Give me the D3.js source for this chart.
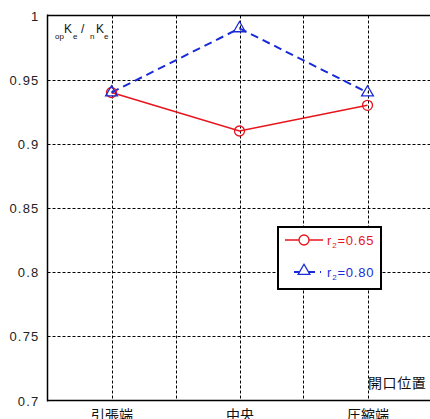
<!DOCTYPE html>
<html>
<head>
<meta charset="utf-8">
<script src="https://cdn.jsdelivr.net/npm/d3@7/dist/d3.min.js"></script>
<style>
  html, body { margin: 0; padding: 0; background: #fff; }
  svg { display: block; }
  .num { font-family: "Liberation Sans", Arial, sans-serif; }
  .cjk { font-family: "Noto Sans CJK JP", "Noto Sans CJK SC", sans-serif; }
</style>
</head>
<body>
<svg id="chart" width="430" height="419"></svg>
<script>
// Opening position categories and their slots on the x axis
const categories = ["引張端", "中央", "圧縮端"];
const categorySlots = [1, 3, 5];
const xGridSlots = [1, 2, 3, 4, 5];

// Stiffness ratio for each r2 case
const seriesR065 = [0.94, 0.91, 0.93];
const seriesR080 = [0.94, 0.99, 0.94];

const yTicks = [0.7, 0.75, 0.8, 0.85, 0.9, 0.95, 1];
const yTickLabels = ["0.7", "0.75", "0.8", "0.85", "0.9", "0.95", "1"];

const svg = d3.select("#chart");
const pLeft = 47.5, pRight = 431.5, pTop = 15.5, pBottom = 400.5;

const x = d3.scaleLinear().domain([0, 6]).range([pLeft, pRight]);
const y = d3.scaleLinear().domain([0.7, 1]).range([pBottom, pTop]);

// dashed grid
const grid = svg.append("g").attr("stroke", "#000").attr("stroke-width", 1)
  .attr("stroke-dasharray", "3,2").attr("fill", "none");
grid.selectAll("line.v").data(xGridSlots).enter().append("line")
  .attr("x1", d => Math.round(x(d)) + 0.5).attr("x2", d => Math.round(x(d)) + 0.5)
  .attr("y1", pTop).attr("y2", pBottom);
grid.selectAll("line.h").data(yTicks.slice(1, -1)).enter().append("line")
  .attr("x1", pLeft).attr("x2", pRight)
  .attr("y1", d => Math.round(y(d)) + 0.5).attr("y2", d => Math.round(y(d)) + 0.5);

// frame: left, top, bottom
const frame = svg.append("g").attr("stroke", "#000").attr("fill", "none");
frame.append("line").attr("x1", pLeft).attr("x2", pLeft).attr("y1", pTop - 1).attr("y2", pBottom + 1).attr("stroke-width", 1.5);
frame.append("line").attr("x1", pLeft).attr("x2", pRight).attr("y1", pTop).attr("y2", pTop).attr("stroke-width", 1.5);
frame.append("line").attr("x1", pLeft).attr("x2", pRight).attr("y1", pBottom).attr("y2", pBottom).attr("stroke-width", 1.5);

// y axis labels
const yAxis = d3.axisLeft(y).tickValues(yTicks)
  .tickFormat((d, i) => yTickLabels[i]).tickSize(0).tickPadding(8);
const ya = svg.append("g").attr("transform", `translate(${pLeft},0)`).call(yAxis);
ya.select(".domain").remove();
ya.selectAll("text").attr("class", "num").attr("font-size", 13)
  .attr("fill", "#222").attr("letter-spacing", "1.2px").attr("dy", "0.35em");

// x axis labels
const xAxis = d3.axisBottom(x).tickValues(categorySlots)
  .tickFormat((d, i) => categories[i]).tickSize(0).tickPadding(0);
const xa = svg.append("g").attr("transform", `translate(0,${pBottom})`).call(xAxis);
xa.select(".domain").remove();
xa.selectAll("text").attr("class", "cjk").attr("font-size", 14)
  .attr("fill", "#111").attr("dy", null).attr("y", 19);

// axis titles
svg.append("text").attr("class", "cjk").attr("x", 368).attr("y", 388)
  .attr("font-size", 14).attr("fill", "#111").attr("letter-spacing", "0.6px").text("開口位置");

const t = svg.append("g").attr("class", "num").attr("fill", "#111");
t.append("text").attr("x", 55).attr("y", 39).attr("font-size", 8).text("op");
t.append("text").attr("x", 64).attr("y", 33).attr("font-size", 12).text("K");
t.append("text").attr("x", 73).attr("y", 39).attr("font-size", 8).text("e");
t.append("text").attr("x", 81).attr("y", 33).attr("font-size", 12).text("/");
t.append("text").attr("x", 90).attr("y", 39).attr("font-size", 8).text("n");
t.append("text").attr("x", 96).attr("y", 33).attr("font-size", 12).text("K");
t.append("text").attr("x", 104).attr("y", 39).attr("font-size", 8).text("e");

// series lines
const red = "#e8141c", blue = "#1a2bd6";
const line = d3.line().x((d, i) => x(categorySlots[i])).y(d => y(d));
svg.append("path").datum(seriesR065).attr("d", line)
  .attr("fill", "none").attr("stroke", red).attr("stroke-width", 1.6);
svg.append("path").datum(seriesR080).attr("d", line)
  .attr("fill", "none").attr("stroke", blue).attr("stroke-width", 2)
  .attr("stroke-dasharray", "8,5");

// markers
const tri = d3.symbol().type(d3.symbolTriangle).size(60);
svg.selectAll("circle.m").data(seriesR065).enter().append("circle")
  .attr("cx", (d, i) => x(categorySlots[i])).attr("cy", d => y(d)).attr("r", 5)
  .attr("fill", "none").attr("stroke", red).attr("stroke-width", 1.3);
svg.selectAll("path.m").data(seriesR080).enter().append("path")
  .attr("d", tri).attr("transform", (d, i) => `translate(${x(categorySlots[i])},${y(d)})`)
  .attr("fill", "none").attr("stroke", blue).attr("stroke-width", 1.3);

// legend
const lg = svg.append("g");
lg.append("rect").attr("x", 278).attr("y", 227).attr("width", 103).attr("height", 62)
  .attr("fill", "#fff").attr("stroke", "#000").attr("stroke-width", 2);
lg.append("line").attr("x1", 285).attr("x2", 323).attr("y1", 240).attr("y2", 240)
  .attr("stroke", red).attr("stroke-width", 1.6);
lg.append("circle").attr("cx", 304).attr("cy", 240).attr("r", 5)
  .attr("fill", "#fff").attr("stroke", red).attr("stroke-width", 1.3);
lg.append("line").attr("x1", 294).attr("x2", 321).attr("y1", 272).attr("y2", 272)
  .attr("stroke", blue).attr("stroke-width", 2).attr("stroke-dasharray", "8,5");
lg.append("path").attr("d", tri).attr("transform", "translate(304,271)")
  .attr("fill", "#fff").attr("stroke", blue).attr("stroke-width", 1.3);

function legendLabel(yy, color, val) {
  const g = lg.append("text").attr("class", "num").attr("x", 327).attr("y", yy)
    .attr("font-size", 13).attr("fill", color).attr("letter-spacing", "0.8px");
  g.append("tspan").text("r");
  g.append("tspan").attr("font-size", 8).attr("dy", 3).text("2");
  g.append("tspan").attr("dy", -3).text("=" + val);
}
legendLabel(245, red, "0.65");
legendLabel(277, blue, "0.80");
</script>
</body>
</html>
